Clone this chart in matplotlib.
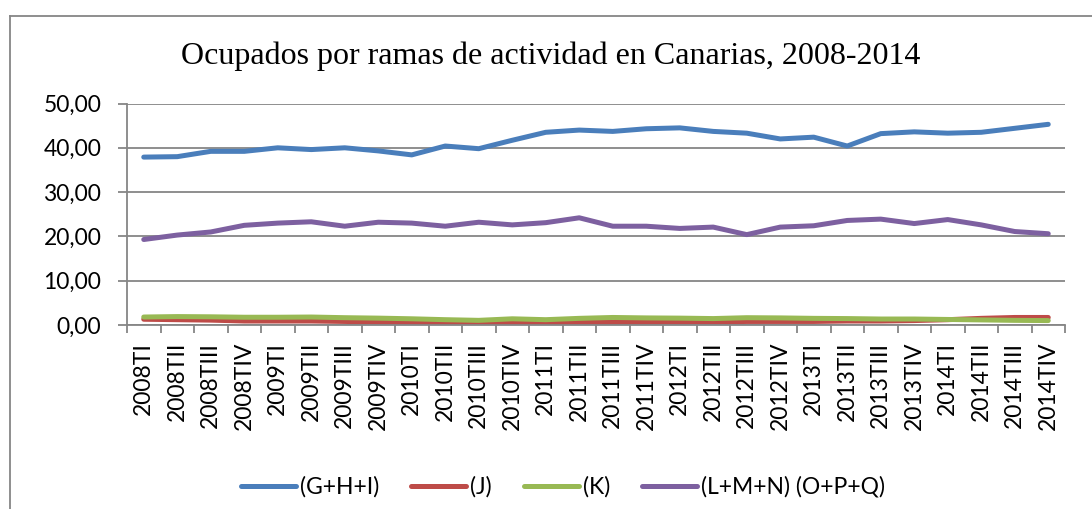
import matplotlib
matplotlib.use("Agg")
import matplotlib.pyplot as plt
from matplotlib.lines import Line2D
from matplotlib.ticker import FixedLocator, FuncFormatter

quarters = [f"{y}T{q}" for y in range(2008, 2015) for q in ["I", "II", "III", "IV"]]

ghi = [37.9, 38.0, 39.2, 39.2, 40.0, 39.6, 40.0, 39.3, 38.4, 40.4, 39.8, 41.7, 43.5, 44.0,
       43.7, 44.3, 44.5, 43.7, 43.3, 42.0, 42.4, 40.4, 43.2, 43.6, 43.3, 43.5, 44.4, 45.3]
j_vals = [1.3, 1.2, 1.1, 0.9, 0.9, 0.9, 0.8, 0.7, 0.6, 0.4, 0.3, 0.5, 0.4, 0.6,
          0.6, 0.7, 0.7, 0.7, 0.8, 0.8, 0.8, 0.9, 0.9, 1.0, 1.2, 1.5, 1.7, 1.7]
k_vals = [1.8, 1.9, 1.85, 1.75, 1.75, 1.8, 1.65, 1.55, 1.4, 1.2, 1.05, 1.4, 1.2, 1.5,
          1.7, 1.6, 1.55, 1.45, 1.65, 1.6, 1.5, 1.45, 1.35, 1.35, 1.25, 1.15, 1.05, 1.0]
lmn = [19.3, 20.3, 21.0, 22.5, 23.0, 23.3, 22.3, 23.2, 23.0, 22.3, 23.2, 22.6, 23.1, 24.2,
       22.3, 22.3, 21.8, 22.1, 20.4, 22.1, 22.4, 23.6, 23.9, 22.9, 23.8, 22.6, 21.1, 20.6]

series_names = ["(G+H+I)", "(J)", "(K)", "(L+M+N) (O+P+Q)"]
series_values = [ghi, j_vals, k_vals, lmn]
colors = ["#4A7EBB", "#BE4B48", "#98B954", "#7D60A0"]
title = "Ocupados por ramas de actividad en Canarias, 2008-2014"
y_ticks = [0, 10, 20, 30, 40, 50]

W, H = 1092, 509
fig = plt.figure(figsize=(W / 100, H / 100), dpi=100)
fig.patch.set_facecolor("white")

# outer chart border (left and top visible)
grey = "#868686"
fig.add_artist(Line2D([9.5 / W, 9.5 / W], [0, 1 - 15.5 / H], transform=fig.transFigure,
                      color=grey, lw=1.3))
fig.add_artist(Line2D([9.5 / W, 1], [1 - 15.5 / H, 1 - 15.5 / H], transform=fig.transFigure,
                      color=grey, lw=1.3))

left, right = 127 / W, 1065 / W
bottom, top = 1 - 325 / H, 1 - 103.5 / H
ax = fig.add_axes([left, bottom, right - left, top - bottom])

x = list(range(len(quarters)))
for vals, c, name in zip(series_values, colors, series_names):
    ax.plot(x, vals, color=c, lw=3.6, solid_capstyle="round", solid_joinstyle="round",
            label=name)

ax.set_xlim(-0.5, len(quarters) - 0.5)
ax.set_ylim(0, 50)
ax.set_yticks(y_ticks)
ax.yaxis.set_major_formatter(FuncFormatter(lambda v, p: f"{v:.2f}".replace(".", ",")))
ax.grid(axis="y", color=grey, lw=1.3)
ax.set_axisbelow(True)

ax.set_xticks(x)
ax.set_xticklabels(quarters, rotation=90)
ax.xaxis.set_minor_locator(FixedLocator([i + 0.5 for i in range(-1, len(quarters))]))

tick_font = "Lato"
for lab in ax.get_xticklabels() + ax.get_yticklabels():
    lab.set_fontfamily(tick_font)
    lab.set_fontsize(16.5)
    lab.set_color("black")

ax.tick_params(axis="x", which="major", length=0, pad=12)
ax.tick_params(axis="x", which="minor", length=6, width=1.3, color=grey, direction="out")
ax.tick_params(axis="y", which="major", length=6.5, width=1.3, color=grey, direction="out", pad=12)

for s in ["top", "right"]:
    ax.spines[s].set_visible(False)
for s in ["left", "bottom"]:
    ax.spines[s].set_color(grey)
    ax.spines[s].set_linewidth(1.3)

fig.text(551 / W, 1 - 56 / H, title, ha="center", va="center",
         fontfamily="Liberation Serif", fontsize=23.0, color="black")

leg = fig.legend(*ax.get_legend_handles_labels(), loc="center", ncol=4,
                 bbox_to_anchor=(563 / W, 1 - 487 / H), frameon=False,
                 prop={"family": tick_font, "size": 16.5},
                 handlelength=2.4, handletextpad=0.17, columnspacing=1.4)

fig.savefig("out.png", dpi=100, facecolor="white")
